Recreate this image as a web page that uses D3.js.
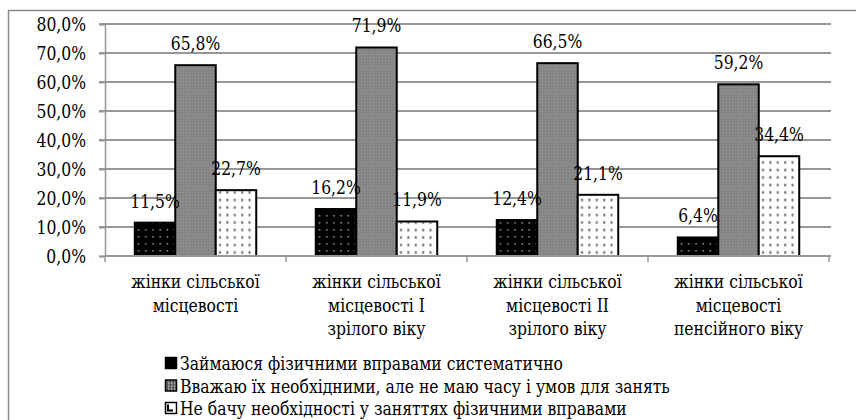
<!DOCTYPE html>
<html>
<head>
<meta charset="utf-8">
<script src="https://cdn.jsdelivr.net/npm/d3@7"></script>
<style>
  html, body { margin: 0; padding: 0; background: #fff; }
  svg { display: block; }
</style>
</head>
<body>
<svg id="chart" width="856" height="420"></svg>
<script>
// Survey groups (x axis), each wrapped over several lines
const categories = [
  ["жінки сільської", "місцевості"],
  ["жінки сільської", "місцевості І", "зрілого віку"],
  ["жінки сільської", "місцевості ІІ", "зрілого віку"],
  ["жінки сільської", "місцевості", "пенсійного віку"]
];
const seriesNames = [
  "Займаюся фізичними вправами систематично",
  "Вважаю їх необхідними, але не маю часу і умов для занять",
  "Не бачу необхідності у заняттях фізичними вправами"
];
const systematic = [11.5, 16.2, 12.4, 6.4];
const noTime = [65.8, 71.9, 66.5, 59.2];
const noNeed = [22.7, 11.9, 21.1, 34.4];
const yTicks = [0, 10, 20, 30, 40, 50, 60, 70, 80];

const seriesValues = [systematic, noTime, noNeed];
const fmt = v => v.toFixed(1).replace(".", ",") + "%";
const FAMILY = "'DejaVu Serif', 'Noto Serif', serif";
const FONT = `font-family:${FAMILY};font-size:19px;fill:#000;`;

const svg = d3.select("#chart");

// Horizontal squeeze so the serif face runs as narrow as a Times-style face
const probe = svg.append("text").attr("style", FONT).text(seriesNames[0]);
const probeW = probe.node().getComputedTextLength();
probe.remove();
const squeeze = probeW > 0 ? Math.min(1, 383 / probeW) : 1;
function narrow(sel) {
  sel.each(function () {
    const w = this.getComputedTextLength();
    if (w > 0) d3.select(this).attr("textLength", (w * squeeze).toFixed(2)).attr("lengthAdjust", "spacingAndGlyphs");
  });
}

const defs = svg.append("defs");

// Fill patterns for the three series
const pBlack = defs.append("pattern").attr("id", "pat0").attr("patternUnits", "userSpaceOnUse")
  .attr("width", 7.2).attr("height", 7).attr("x", 1).attr("y", 2);
pBlack.append("rect").attr("width", 7.2).attr("height", 7).attr("fill", "#000");
pBlack.append("rect").attr("x", 3).attr("y", 3).attr("width", 1.6).attr("height", 1.6).attr("fill", "#8a8a8a");

const pGray = defs.append("pattern").attr("id", "pat1").attr("patternUnits", "userSpaceOnUse")
  .attr("width", 3).attr("height", 3);
pGray.append("rect").attr("width", 3).attr("height", 3).attr("fill", "#858585");
pGray.append("rect").attr("x", 0).attr("y", 0).attr("width", 1).attr("height", 1).attr("fill", "#9c9c9c");

const pDot = defs.append("pattern").attr("id", "pat2").attr("patternUnits", "userSpaceOnUse")
  .attr("width", 7.4).attr("height", 7.5).attr("x", 0).attr("y", 1);
pDot.append("rect").attr("width", 7.4).attr("height", 7.5).attr("fill", "#fff");
pDot.append("rect").attr("x", 3).attr("y", 2.5).attr("width", 2).attr("height", 3).attr("rx", 0.8).attr("fill", "#6e6e6e");

const pLegGray = defs.append("pattern").attr("id", "legpat1").attr("patternUnits", "userSpaceOnUse")
  .attr("width", 3).attr("height", 3);
pLegGray.append("rect").attr("width", 3).attr("height", 3).attr("fill", "#555");
pLegGray.append("rect").attr("width", 1.5).attr("height", 1.5).attr("fill", "#ccc");

// Outer frame (top and left edges visible)
svg.append("path")
  .attr("d", "M8.5,420 V10.5 H856")
  .attr("fill", "none").attr("stroke", "#8a8a8a").attr("stroke-width", 1.5);

// Scales
const plotLeft = 105, plotRight = 829, plotTop = 24, plotBottom = 256;
const y = d3.scaleLinear().domain([0, 80]).range([plotBottom, plotTop]);
const x = d3.scaleBand().domain(d3.range(categories.length)).range([plotLeft, plotRight]).paddingInner(0).paddingOuter(0);
const x1 = d3.scaleBand().domain(d3.range(seriesNames.length)).range([0, x.bandwidth()]).paddingInner(0).paddingOuter(0.735);

// Gridlines
svg.append("g").selectAll("line").data(yTicks.filter(t => t > 0)).join("line")
  .attr("x1", plotLeft - 6).attr("x2", plotRight + 2)
  .attr("y1", d => y(d)).attr("y2", d => y(d))
  .attr("stroke", "#979797").attr("stroke-width", 2);

// Y axis
const yAxis = d3.axisLeft(y).tickValues(yTicks).tickFormat(fmt).tickSize(6).tickPadding(13);
const gy = svg.append("g").attr("transform", `translate(${plotLeft},0)`).call(yAxis);
gy.select(".domain").attr("stroke", "#979797").attr("stroke-width", 1.5);
gy.selectAll(".tick line").attr("stroke", "#979797").attr("stroke-width", 2);
gy.selectAll(".tick text").attr("style", FONT).attr("dy", "0.36em").call(narrow);

// Bars
const groups = svg.append("g").selectAll("g").data(categories).join("g")
  .attr("transform", (d, i) => `translate(${x(i)},0)`);
groups.selectAll("rect").data((d, i) => seriesValues.map((s, k) => ({ k, v: s[i] }))).join("rect")
  .attr("x", d => x1(d.k)).attr("width", x1.bandwidth())
  .attr("y", d => y(d.v)).attr("height", d => y(0) - y(d.v))
  .attr("fill", d => `url(#pat${d.k})`)
  .attr("stroke", "#000").attr("stroke-width", 2);

// X axis
const xAxisLine = svg.append("g");
xAxisLine.append("line").attr("x1", plotLeft).attr("x2", plotRight + 2)
  .attr("y1", plotBottom).attr("y2", plotBottom).attr("stroke", "#979797").attr("stroke-width", 2);
xAxisLine.selectAll("line.tk").data(d3.range(categories.length + 1)).join("line").attr("class", "tk")
  .attr("x1", i => i < categories.length ? x(i) : x(i - 1) + x.bandwidth())
  .attr("x2", i => i < categories.length ? x(i) : x(i - 1) + x.bandwidth())
  .attr("y1", plotBottom).attr("y2", plotBottom + 6)
  .attr("stroke", "#979797").attr("stroke-width", 1.5);

// Category labels, one text per wrapped line
const catLines = categories.flatMap((lines, i) => lines.map((l, j) => ({ i, j, l })));
svg.append("g").selectAll("text").data(catLines).join("text")
  .attr("text-anchor", "middle").attr("style", FONT)
  .attr("x", d => x(d.i) + x.bandwidth() / 2)
  .attr("y", d => 288 + d.j * 23.5)
  .text(d => d.l)
  .call(narrow);

// Value labels
groups.selectAll("text").data((d, i) => seriesValues.map((s, k) => ({ k, v: s[i] }))).join("text")
  .attr("x", d => x1(d.k) + x1.bandwidth() / 2)
  .attr("y", d => y(d.v) - 15)
  .attr("text-anchor", "middle").attr("style", FONT)
  .text(d => fmt(d.v))
  .call(narrow);

// Legend
const legend = svg.append("g").attr("transform", "translate(165,357)");
const legItems = legend.selectAll("g").data(seriesNames).join("g")
  .attr("transform", (d, i) => `translate(0,${i * 22.5})`);
legItems.append("rect").attr("width", 11).attr("height", 11).attr("x", 0.5).attr("y", 0.5)
  .attr("fill", (d, i) => i === 0 ? "#000" : i === 1 ? "url(#legpat1)" : "#fff")
  .attr("stroke", "#000").attr("stroke-width", 1.5);
legItems.filter((d, i) => i === 2).append("path")
  .attr("d", "M3,2.5 V8.5 H8").attr("fill", "none").attr("stroke", "#000").attr("stroke-width", 2);
legItems.append("text").attr("x", 15).attr("y", 13).attr("style", FONT).text(d => d).call(narrow);
</script>
</body>
</html>
